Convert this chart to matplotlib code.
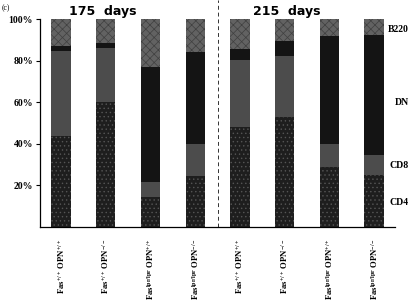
import numpy as np
import matplotlib
matplotlib.use("Agg")
import matplotlib.pyplot as plt

plt.rcParams['hatch.linewidth'] = 0.5
plt.rcParams['mathtext.fontset'] = 'custom'
plt.rcParams['mathtext.rm'] = 'Liberation Serif:bold'
plt.rcParams['mathtext.it'] = 'Liberation Serif:bold'
plt.rcParams['mathtext.bf'] = 'Liberation Serif:bold'

# genotypes (x labels)
labels = [r'Fas$^{+/+}$ OPN$^{+/+}$', r'Fas$^{+/+}$ OPN$^{-/-}$',
          r'Fas$^{\mathrm{lpr/lpr}}$ OPN$^{+/+}$', r'Fas$^{\mathrm{lpr/lpr}}$ OPN$^{-/-}$',
          r'Fas$^{+/+}$ OPN$^{+/+}$', r'Fas$^{+/+}$ OPN$^{-/-}$',
          r'Fas$^{\mathrm{lpr/lpr}}$ OPN$^{+/+}$', r'Fas$^{\mathrm{lpr/lpr}}$ OPN$^{-/-}$']

# percentages per population
cd4 = [44, 60, 14.5, 24.5, 48, 53, 29, 25]
cd8 = [40.6, 26, 7, 15.5, 32.5, 29, 11, 9.5]
dn = [2.4, 2.5, 55.5, 44, 5, 7.5, 52, 58]
b220 = [13, 11.5, 23, 16, 14.5, 10.5, 8, 7.5]

groups = ['175  days', '215  days']
yticks = [20, 40, 60, 80, 100]

fig = plt.figure(figsize=(4.11, 3.02), dpi=100)
ax = fig.add_axes([0.0973, 0.248, 0.864, 0.689])

x = np.arange(len(labels))
w = 0.43
bot = np.zeros(len(x))
styles = [
    (cd4, '#1e1e1e', '....', '#555555'),
    (cd8, '#4c4c4c', '', '#4c4c4c'),
    (dn, '#141414', '', '#141414'),
    (b220, '#626262', 'xxxx', '#404040'),
]
for vals, fc, h, ec in styles:
    ax.bar(x, vals, w, bottom=bot, color=fc, hatch=h, edgecolor=ec, linewidth=0)
    bot += np.array(vals)

ax.set_xlim(-0.47, 7.47)
ax.set_ylim(0, 100)
ax.set_yticks(yticks)
ax.set_yticklabels([f'{t}%' for t in yticks], fontfamily='Liberation Serif',
                   fontweight='bold', fontsize=7)
ax.tick_params(axis='y', length=3, width=0.8, pad=2)
ax.set_xticks(x)
ax.set_xticklabels(labels, rotation=90, fontfamily='Liberation Serif',
                   fontsize=6.2, fontweight='bold')
ax.tick_params(axis='x', length=0, pad=8)
for s in ['top', 'right']:
    ax.spines[s].set_visible(False)
ax.spines['left'].set_linewidth(0.9)
ax.spines['bottom'].set_linewidth(0.9)

ax.axvline(3.5, ymin=0, ymax=1.09, color='#333333', linestyle=(0, (4, 3)),
           linewidth=0.7, clip_on=False)

ax.text(0.94, 103.5, groups[0], ha='center', va='center', fontsize=9,
        fontweight='bold')
ax.text(5.05, 103.5, groups[1], ha='center', va='center', fontsize=9,
        fontweight='bold')
fig.text(0.005, 0.985, '(c)', ha='left', va='top', fontsize=5.5,
         fontfamily='Liberation Serif')

for name, yv in [('B220', 95), ('DN', 60), ('CD8', 29.5), ('CD4', 12)]:
    ax.text(7.78, yv, name, ha='right', va='center', fontsize=7,
            fontfamily='Liberation Serif', fontweight='bold', clip_on=False)

fig.savefig('out.png', dpi=100)
